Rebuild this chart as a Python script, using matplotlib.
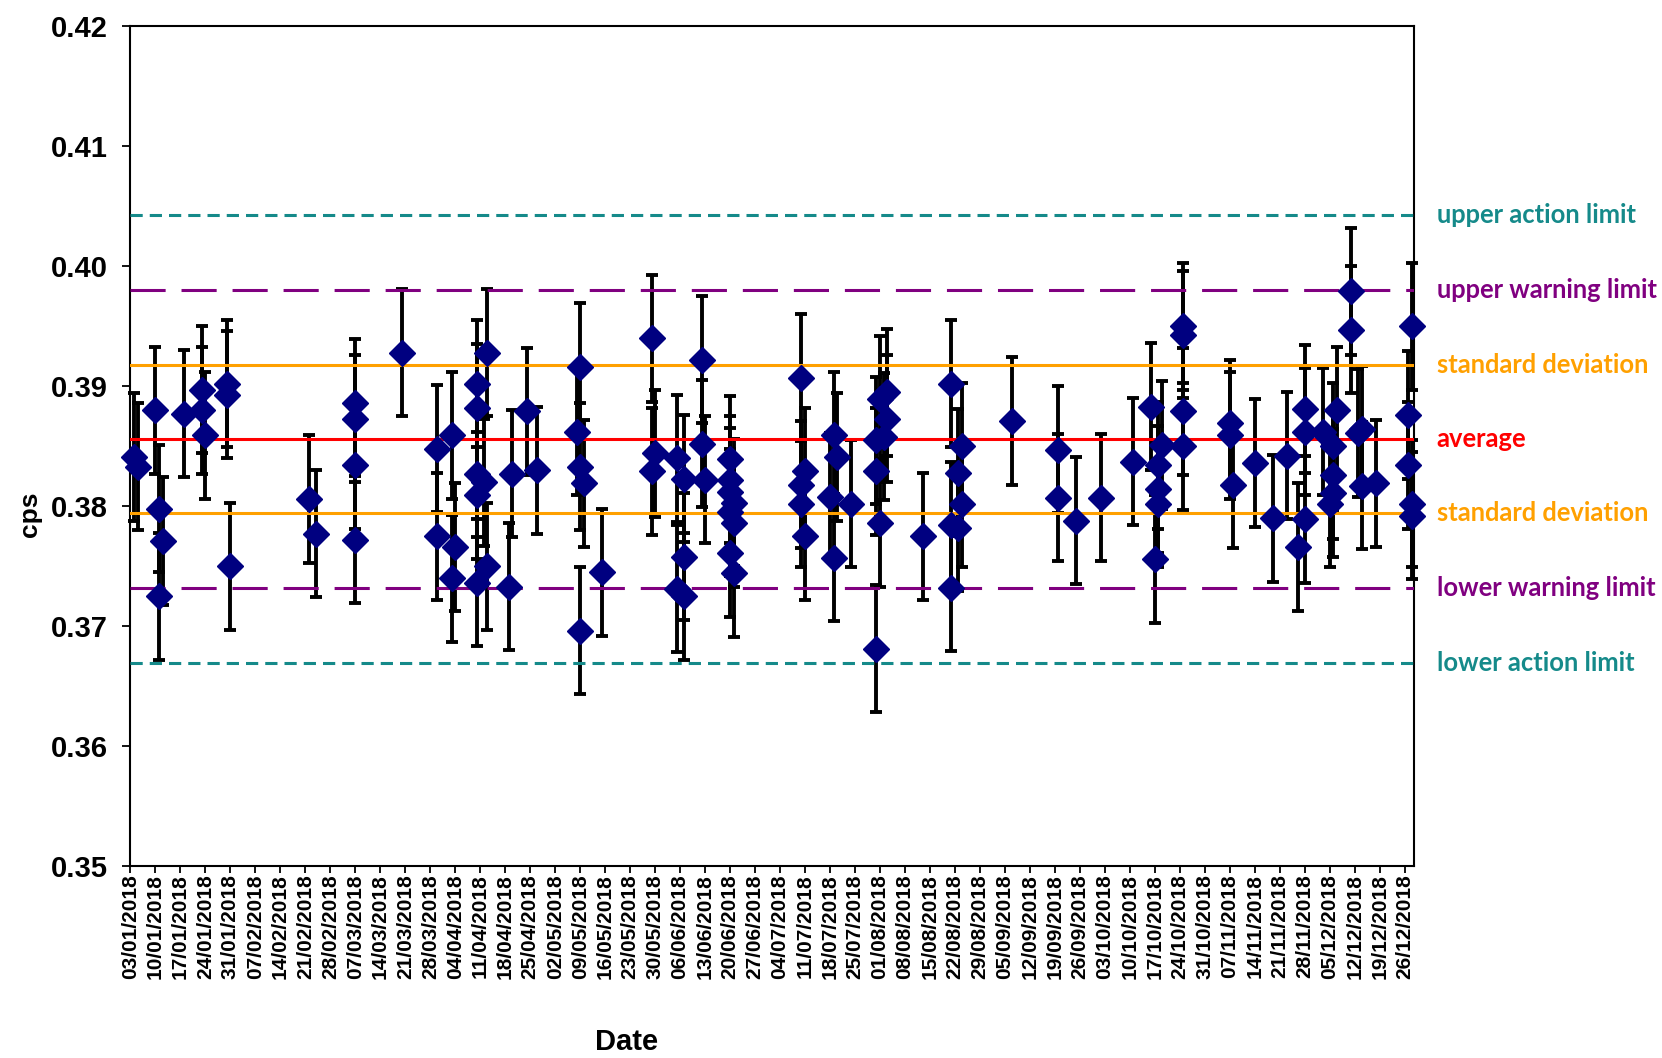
import numpy as np
import matplotlib.pyplot as plt
import matplotlib.dates as mdates


dates = [
    "2018-01-04", "2018-01-05", "2018-01-10", "2018-01-11", "2018-01-11", "2018-01-12",
    "2018-01-18", "2018-01-23", "2018-01-23", "2018-01-24", "2018-01-30", "2018-01-30",
    "2018-01-31", "2018-02-22", "2018-02-24",
    "2018-03-07", "2018-03-07", "2018-03-07", "2018-03-07", "2018-03-20", "2018-03-30",
    "2018-03-30",
    "2018-04-03", "2018-04-03", "2018-04-04", "2018-04-10", "2018-04-10", "2018-04-10",
    "2018-04-10", "2018-04-10", "2018-04-12", "2018-04-13", "2018-04-13", "2018-04-19",
    "2018-04-20", "2018-04-24", "2018-04-27",
    "2018-05-08", "2018-05-09", "2018-05-09", "2018-05-09", "2018-05-10", "2018-05-15",
    "2018-05-29", "2018-05-29", "2018-05-30",
    "2018-06-05", "2018-06-05", "2018-06-07", "2018-06-07", "2018-06-07", "2018-06-12",
    "2018-06-12", "2018-06-13", "2018-06-20", "2018-06-20", "2018-06-20", "2018-06-20",
    "2018-06-20", "2018-06-21", "2018-06-21", "2018-06-21",
    "2018-07-10", "2018-07-10", "2018-07-10", "2018-07-11", "2018-07-11", "2018-07-18",
    "2018-07-19", "2018-07-19", "2018-07-20", "2018-07-24", "2018-07-31", "2018-07-31",
    "2018-07-31",
    "2018-08-01", "2018-08-01", "2018-08-02", "2018-08-03", "2018-08-03", "2018-08-13",
    "2018-08-21", "2018-08-21", "2018-08-21", "2018-08-23", "2018-08-23", "2018-08-24",
    "2018-08-24",
    "2018-09-07", "2018-09-20", "2018-09-20", "2018-09-25",
    "2018-10-02", "2018-10-11", "2018-10-16", "2018-10-17", "2018-10-18", "2018-10-18",
    "2018-10-18", "2018-10-19", "2018-10-25", "2018-10-25", "2018-10-25", "2018-10-25",
    "2018-11-07", "2018-11-07", "2018-11-08", "2018-11-14", "2018-11-19", "2018-11-23",
    "2018-11-26", "2018-11-28", "2018-11-28", "2018-11-28",
    "2018-12-03", "2018-12-05", "2018-12-06", "2018-12-06", "2018-12-06", "2018-12-07",
    "2018-12-11", "2018-12-11", "2018-12-13", "2018-12-14", "2018-12-14", "2018-12-18",
    "2018-12-27", "2018-12-27", "2018-12-28", "2018-12-28", "2018-12-28",
]
cps = [
    0.3841, 0.3833, 0.3880, 0.3798, 0.3725, 0.3771,
    0.3877, 0.3897, 0.3880, 0.3859, 0.3902, 0.3893,
    0.3750, 0.3806, 0.3777,
    0.3886, 0.3873, 0.3834, 0.3772, 0.3928, 0.3848,
    0.3775,
    0.3859, 0.3740, 0.3766, 0.3902, 0.3882, 0.3827,
    0.3809, 0.3736, 0.3820, 0.3928, 0.3750, 0.3733,
    0.3827, 0.3879, 0.3830,
    0.3862, 0.3916, 0.3833, 0.3696, 0.3819, 0.3745,
    0.3940, 0.3829, 0.3844,
    0.3840, 0.3731, 0.3823, 0.3758, 0.3725, 0.3922,
    0.3852, 0.3822, 0.3839, 0.3822, 0.3812, 0.3795,
    0.3761, 0.3803, 0.3786, 0.3744,
    0.3907, 0.3818, 0.3802, 0.3829, 0.3775, 0.3808,
    0.3859, 0.3757, 0.3841, 0.3802, 0.3855, 0.3829,
    0.3681,
    0.3889, 0.3786, 0.3858, 0.3895, 0.3873, 0.3775,
    0.3902, 0.3784, 0.3732, 0.3828, 0.3782, 0.3850,
    0.3802,
    0.3871, 0.3847, 0.3807, 0.3788,
    0.3807, 0.3837, 0.3883, 0.3756, 0.3834, 0.3814,
    0.3802, 0.3851, 0.3950, 0.3943, 0.3879, 0.3850,
    0.3869, 0.3859, 0.3818, 0.3836, 0.3790, 0.3842,
    0.3766, 0.3881, 0.3862, 0.3789,
    0.3862, 0.3802, 0.3850, 0.3826, 0.3811, 0.3880,
    0.3979, 0.3947, 0.3861, 0.3864, 0.3817, 0.3819,
    0.3876, 0.3834, 0.3950, 0.3802, 0.3792,
]
cps_err = 0.0053

# control chart limits (average +/- 1, 2, 3 standard deviations)
limit_values = [0.4043, 0.3980, 0.3918, 0.3856, 0.3794, 0.3732, 0.3669]
limit_labels = ["upper action limit", "upper warning limit", "standard deviation", "average",
                "standard deviation", "lower warning limit", "lower action limit"]
limit_colors = ["#158a8a", "#800080", "#ffa000", "#ff0000", "#ffa000", "#800080", "#158a8a"]
limit_styles = [(0, (4, 2.3)), (0, (11.5, 5.2)), "-", "-", "-", (0, (11.5, 5.2)), (0, (4, 2.3))]


fig = plt.figure(figsize=(16.62, 10.58), dpi=100)
ax = fig.add_axes([0.0785, 0.1815, 0.772, 0.7935])

x = np.array(dates, dtype="datetime64[D]")

ax.errorbar(x, cps, yerr=cps_err, fmt="none", ecolor="black", elinewidth=2.8,
            capsize=4, capthick=2.8, zorder=2, clip_on=False)

for level, label, color, style in zip(limit_values, limit_labels, limit_colors, limit_styles):
    ax.axhline(level, color=color, lw=2.2, linestyle=style, zorder=3)
    ax.text(1.018, level, label, transform=ax.get_yaxis_transform(), color=color,
            fontsize=18.4, fontweight="bold", family="Lato", va="center", ha="left")

ax.plot(x, cps, "D", color="#000080", ms=13, lw=0, zorder=4, clip_on=False)

# axes
ax.set_ylim(0.35, 0.42)
ax.set_yticks(np.arange(0.35, 0.4201, 0.01))
ax.yaxis.set_major_formatter(plt.FormatStrFormatter("%.2f"))
ax.set_xlim(np.datetime64("2018-01-03"), np.datetime64("2018-12-28T12:00"))
ax.set_xticks(np.arange(np.datetime64("2018-01-03"), np.datetime64("2018-12-27"), 7))
ax.xaxis.set_major_formatter(mdates.DateFormatter("%d/%m/%Y"))

ax.tick_params(axis="y", length=6, width=1.3, pad=10, labelsize=21)
ax.tick_params(axis="x", length=5, width=1.3, pad=1, labelsize=15, labelrotation=90)
for lbl in ax.get_xticklabels() + ax.get_yticklabels():
    lbl.set_fontweight("bold")
    lbl.set_family("Liberation Sans")

for side in ax.spines.values():
    side.set_linewidth(1.5)

fig.text(0.018, 0.514, "cps", rotation=90, fontsize=19, fontweight="bold",
         family="Liberation Sans", ha="center", va="center")
fig.text(0.377, 0.015, "Date", fontsize=21, fontweight="bold", family="Liberation Sans",
         ha="center", va="center")

fig.savefig("out.png", dpi=100)
